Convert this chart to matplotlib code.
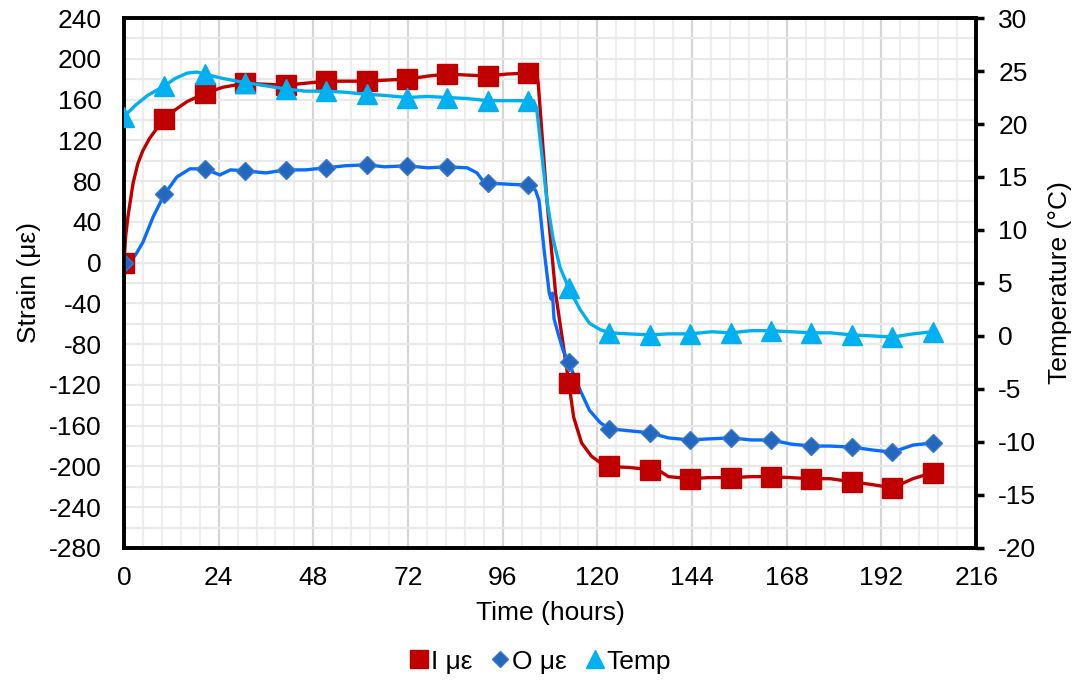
import numpy as np
import matplotlib
matplotlib.use("Agg")
import matplotlib.pyplot as plt
from matplotlib.ticker import MultipleLocator

plt.rcParams['font.family'] = ['Liberation Sans', 'DejaVu Sans']
plt.rcParams['axes.unicode_minus'] = False

# ---- marker samples -------------------------------------------------------
marker_hours = [0, 10.25, 20.5, 30.75, 41, 51.25, 61.5, 71.75, 82, 92.25, 102.5,
                112.75, 123, 133.25, 143.5, 153.75, 164, 174.25, 184.5, 194.75, 205]
inner_marker = [0, 141, 166, 176, 174, 178, 178, 180, 185, 183, 186,
                -118, -200, -203, -212, -211, -210, -212, -215, -221, -206]
outer_marker = [0, 67, 92, 90, 91, 93, 96, 95, 94, 78, 76,
                -98, -163, -167, -174, -172, -174, -180, -181, -186, -177]
temp_marker = [20.7, 23.6, 24.7, 23.9, 23.3, 23.1, 22.8, 22.5, 22.5, 22.2, 22.2,
               4.5, 0.3, 0.1, 0.2, 0.3, 0.5, 0.3, 0.1, -0.1, 0.4]

# ---- continuous logger traces ---------------------------------------------
inner_hours = [0, 0.4, 1.0, 2.3, 3.5, 4.8, 6.5, 8.4, 10.25, 13, 16, 20.5, 25, 30.75,
               36, 41, 46, 51.25, 56, 61.5, 66, 71.75, 77, 82, 87, 92.25, 97, 102.5,
               104.3, 105, 107.2, 109.4, 112.75, 114, 116, 118.5, 121, 123, 128,
               133.25, 136, 138, 143.5, 148, 153.75, 159, 164, 169, 174.25, 179,
               184.5, 190, 194.75, 200, 205]
inner_trace = [0, 25, 45, 78, 97, 110, 122, 132, 141, 150, 158, 166, 172, 176,
               175, 174, 176, 178, 178, 178, 179, 180, 183, 185, 184, 183, 185, 186,
               193, 176, 61, -30, -118, -152, -177, -190, -197, -200, -201,
               -203, -205, -210, -212, -211, -211, -210, -210, -211, -212, -212,
               -215, -218, -221, -212, -206]

outer_hours = [0, 1.5, 3, 4.8, 7.4, 10.25, 13.4, 16.7, 20.5, 24.3, 27, 30.75,
               36, 41, 46, 51.25, 56, 61.5, 66, 71.75, 77, 82, 87, 89.5, 91, 92.25,
               97, 102.5, 104.3, 105.2, 106.5, 107.8, 108.3, 108.6, 109, 110, 111.3,
               112.75, 115.6, 118, 120.7, 123, 128, 133.25, 138, 143.5, 148, 153.75,
               159, 164, 169, 174.25, 179, 184.5, 190, 194.75, 200, 205]
outer_trace = [0, 1, 8, 20, 45, 67, 84, 92, 92, 86, 91, 90,
               88, 91, 91, 93, 95, 96, 94, 95, 93, 94, 93, 88, 80, 78,
               77, 76, 71, 61, 12, -30, -36, -30, -55, -69, -86,
               -98, -125, -145, -157, -163, -165, -167, -172, -174, -173, -172,
               -174, -174, -178, -180, -180, -181, -184, -186, -179, -177]

temp_hours = [0, 3, 6, 10.25, 13, 16, 18.5, 20.5, 25, 30.75, 36, 41, 46, 51.25,
              56, 61.5, 66, 71.75, 77, 82, 87, 92.25, 97, 102.5, 103.8, 104.6,
              105.8, 107.2, 108.8, 110.5, 112.75, 115.6, 118, 120.7, 123, 128,
              133.25, 138, 143.5, 149, 153.75, 159, 164, 169, 174.25, 179, 184.5,
              190, 194.75, 200, 205]
temp_trace = [20.7, 21.8, 22.7, 23.6, 24.3, 24.8, 24.9, 24.7, 24.3, 23.9, 23.6,
              23.3, 23.1, 23.1, 23.0, 22.8, 22.7, 22.5, 22.6, 22.5, 22.4, 22.2,
              22.2, 22.2, 22.2, 21.5, 17.5, 12.8, 9.1, 6.5, 4.5, 2.5, 1.2, 0.6,
              0.3, 0.2, 0.1, 0.2, 0.2, 0.4, 0.3, 0.5, 0.5, 0.4, 0.3, 0.3, 0.1,
              0.0, -0.1, 0.2, 0.4]

# ---- styling ---------------------------------------------------------------
red = '#C00000'
blue_line = '#0A6CFF'
blue_mark = '#2268BE'
cyan = '#00B0F0'
fs = 19

fig = plt.figure(figsize=(10.81, 6.82), dpi=100)
ax = fig.add_axes([0.1147, 0.1965, 0.7883, 0.7771])
ax2 = ax.twinx()

ax.set_xlim(0, 216)
ax.set_ylim(-280, 240)
ax2.set_ylim(-20, 30)

ax.xaxis.set_major_locator(MultipleLocator(24))
ax.xaxis.set_minor_locator(MultipleLocator(4.8))
ax.yaxis.set_major_locator(MultipleLocator(40))
ax.yaxis.set_minor_locator(MultipleLocator(20))
ax2.yaxis.set_major_locator(MultipleLocator(5))

ax.grid(which='minor', axis='x', color='#EEEEEE', lw=1.6, zorder=0)
ax.grid(which='major', axis='x', color='#D6D6D6', lw=1.6, zorder=0)
ax.grid(which='both', axis='y', color='#E9E9E9', lw=1.6, zorder=0)
ax.set_axisbelow(True)

# strain traces and their markers
ax.plot(inner_hours, inner_trace, color=red, lw=2.4, zorder=3)
h1, = ax.plot(marker_hours, inner_marker, ls='none', marker='s', ms=14.5,
              color=red, mec=red, zorder=4, label='I με')
ax.plot(outer_hours, outer_trace, color=blue_line, lw=2.4, zorder=3)
h2, = ax.plot(marker_hours, outer_marker, ls='none', marker='D', ms=9.5,
              color=blue_mark, mec='#3F78C6', mew=1.0, zorder=4, label='O με')

# temperature on the secondary axis
ax2.plot(temp_hours, temp_trace, color=cyan, lw=2.4, zorder=3)
h3, = ax2.plot(marker_hours, temp_marker, ls='none', marker='^', ms=14.5,
               color=cyan, mec=cyan, zorder=4, label='Temp')

for a in (ax, ax2):
    for s in a.spines.values():
        s.set_linewidth(2.6)
        s.set_color('black')

ax.tick_params(axis='both', which='both', length=0, labelsize=fs)
ax.tick_params(axis='y', pad=16)
ax.tick_params(axis='x', pad=13)
ax2.tick_params(axis='y', which='major', length=6, width=2.5, direction='out',
                labelsize=fs, pad=10)
ax2.tick_params(axis='y', which='minor', length=0)

ax.set_ylabel('Strain (με)', fontsize=fs, labelpad=6)
ax2.set_ylabel('Temperature (°C)', fontsize=fs, labelpad=8)
ax.set_xlabel('Time (hours)', fontsize=fs, labelpad=8)

fig.legend(handles=[h1, h2, h3], loc='center', bbox_to_anchor=(0.5, 0.03),
           ncol=3, frameon=False, fontsize=fs, handlelength=0.7,
           handletextpad=0.1, columnspacing=0.7, markerscale=0.85,
           borderpad=0.1)

fig.savefig('out.png', dpi=100)
